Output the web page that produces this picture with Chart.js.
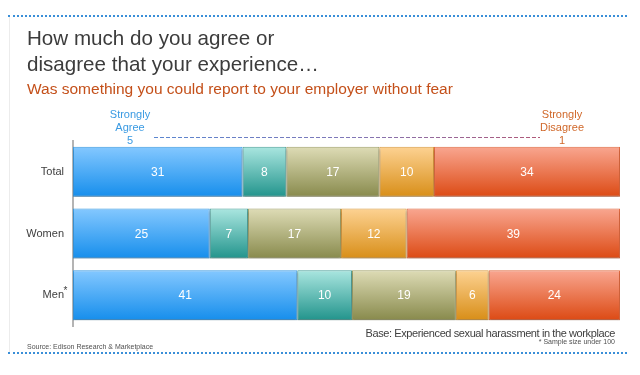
<!DOCTYPE html>
<html>
<head>
<meta charset="utf-8">
<script src="https://cdn.jsdelivr.net/npm/chart.js@4"></script>
<style>
  html, body { margin: 0; padding: 0; background: #fff; }
  #wrap { position: relative; width: 640px; height: 375px; overflow: hidden; font-family: Arial, "Liberation Sans", sans-serif; }
  #wrap canvas { position: absolute; left: 0; top: 0; }
  .txt { position: absolute; white-space: nowrap; }
  .title { left: 27px; color: #3c3c3c; font-size: 20.6px; line-height: 26px; }
  .sub { left: 27px; top: 80px; color: #c4501a; font-size: 15.5px; }
  .end { font-size: 11px; line-height: 13px; text-align: center; width: 80px; }
  .dots { position: absolute; left: 8px; width: 619px; border-top: 2px dotted #3a8fd8; }
  .edge { position: absolute; left: 9px; top: 17px; height: 335px; border-left: 1px solid #ececec; }
</style>
</head>
<body>
<div id="wrap">
  <canvas id="chart" width="640" height="375"></canvas>
  <div class="edge"></div>
  <div class="dots" style="top:15px"></div>
  <div class="dots" style="top:352px"></div>
  <div class="txt title" style="top:25px">How much do you agree or<br>disagree that your experience…</div>
  <div class="txt sub">Was something you could report to your employer without fear</div>
  <div class="txt end" style="left:90px;top:108px;color:#3a9ae2">Strongly<br>Agree<br>5</div>
  <div class="txt end" style="left:522px;top:108px;color:#d0682a">Strongly<br>Disagree<br>1</div>
  <div class="txt" style="right:25px;top:327px;font-size:11px;letter-spacing:-0.4px;color:#404040">Base: Experienced sexual harassment in the workplace</div>
  <div class="txt" style="right:25px;top:338px;font-size:7px;color:#505050">* Sample size under 100</div>
  <div class="txt" style="left:27px;top:343px;font-size:7px;color:#505050">Source: Edison Research &amp; Marketplace</div>
</div>
<script>
const groups = ["Total", "Women", "Men"];
const scaleLabels = ["5", "4", "3", "2", "1"];
const score5 = [31, 25, 41];
const score4 = [8, 7, 10];
const score3 = [17, 17, 19];
const score2 = [10, 12, 6];
const score1 = [34, 39, 24];

// top / bottom / edge colour of each segment
const shades = [
  ["#84c8ff", "#168eec", "#3d9be0"],
  ["#aae6e0", "#22948c", "#4a9e98"],
  ["#dedcb6", "#888a4c", "#a0a068"],
  ["#fdd292", "#d88e18", "#d89a40"],
  ["#f9a690", "#dc4a14", "#e06a40"],
];

const BAR_H = 50;

function gradFor(i) {
  return (ctx) => {
    const chart = ctx.chart;
    if (!chart.chartArea || ctx.type !== "data") return shades[i][1];
    const y = chart.scales.y.getPixelForValue(ctx.dataIndex);
    const g = chart.ctx.createLinearGradient(0, y - BAR_H / 2, 0, y + BAR_H / 2);
    g.addColorStop(0, shades[i][0]);
    g.addColorStop(1, shades[i][1]);
    return g;
  };
}

const series = [score5, score4, score3, score2, score1];

const barShadow = {
  id: "barShadow",
  beforeDatasetsDraw(chart) {
    const c = chart.ctx;
    c.save();
    c.shadowColor = "rgba(0,0,0,0.28)";
    c.shadowOffsetY = 2;
    c.shadowBlur = 2;
  },
  afterDatasetsDraw(chart) {
    chart.ctx.restore();
  },
};

const extras = {
  id: "extras",
  afterDraw(chart) {
    const c = chart.ctx;
    // value labels
    c.save();
    c.font = "12px Arial, 'Liberation Sans', sans-serif";
    c.fillStyle = "#ffffff";
    c.textAlign = "center";
    c.textBaseline = "middle";
    chart.data.datasets.forEach((ds, di) => {
      chart.getDatasetMeta(di).data.forEach((bar, i) => {
        const p = bar.getProps(["x", "base", "y"], true);
        c.fillText(ds.data[i], (p.x + p.base) / 2, p.y + 1);
      });
    });
    // asterisk on Men
    const ym = chart.scales.y.getPixelForValue(2);
    c.fillStyle = "#404040";
    c.font = "10px Arial, 'Liberation Sans', sans-serif";
    c.textAlign = "left";
    c.fillText("*", 63.5, ym - 4);
    // dashed scale line
    const g = c.createLinearGradient(154, 0, 540, 0);
    g.addColorStop(0, "#5a86d0");
    g.addColorStop(0.5, "#8078b8");
    g.addColorStop(1, "#b05878");
    c.strokeStyle = g;
    c.lineWidth = 1;
    c.setLineDash([4, 2]);
    c.beginPath();
    c.moveTo(154, 137.5);
    c.lineTo(540, 137.5);
    c.stroke();
    c.restore();
  },
};

new Chart(document.getElementById("chart"), {
  type: "bar",
  data: {
    labels: groups,
    datasets: series.map((d, i) => ({
      label: scaleLabels[i],
      data: d,
      backgroundColor: gradFor(i),
      borderColor: shades[i][2],
      borderWidth: 1,
      borderSkipped: false,
      categoryPercentage: 0.9,
      barPercentage: 0.9,
    })),
  },
  options: {
    indexAxis: "y",
    responsive: false,
    animation: false,
    events: [],
    layout: { padding: { top: 141, bottom: 49, right: 20, left: 0 } },
    scales: {
      x: { stacked: true, display: false, min: 0, max: 100 },
      y: {
        stacked: true,
        grid: { display: false, drawTicks: false },
        border: { display: true, color: "#b4b4b4", width: 2 },
        ticks: {
          padding: 9,
          color: "#404040",
          font: { family: "Arial, 'Liberation Sans', sans-serif", size: 11 },
        },
        afterFit(scale) { scale.width = 73; },
      },
    },
    plugins: {
      legend: { display: false },
      tooltip: { enabled: false },
    },
  },
  plugins: [barShadow, extras],
});
</script>
</body>
</html>
